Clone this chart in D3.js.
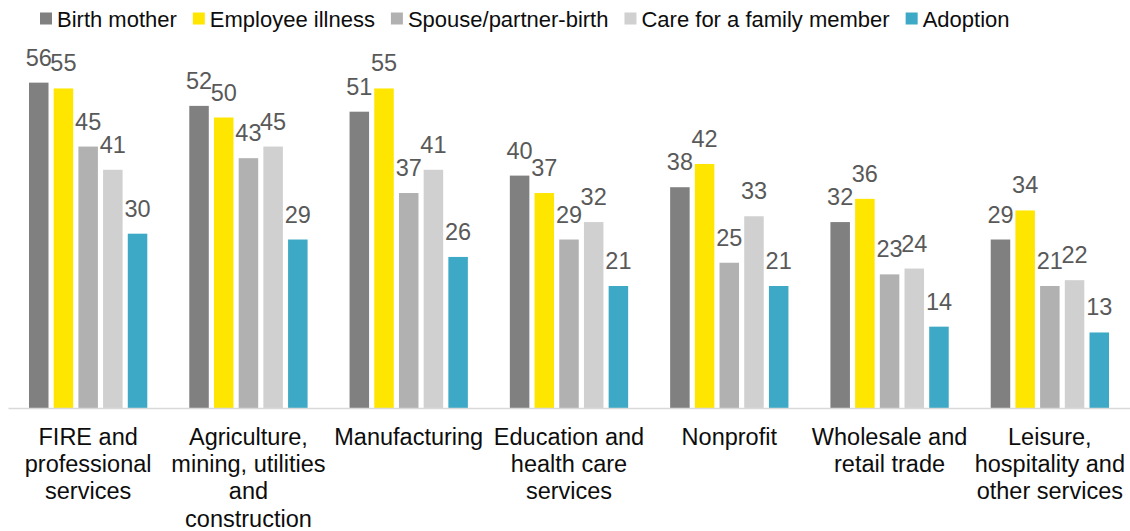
<!DOCTYPE html>
<html>
<head>
<meta charset="utf-8">
<script src="https://cdn.jsdelivr.net/npm/d3@7"></script>
<style>
  body { margin: 0; background: #fff; }
  svg { display: block; font-family: "Liberation Sans", Arial, sans-serif; }
</style>
</head>
<body>
<div id="chart"></div>
<script>
// categories (line breaks as in the original axis labels)
var categories = [
  "FIRE and|professional|services",
  "Agriculture,|mining, utilities|and|construction",
  "Manufacturing",
  "Education and|health care|services",
  "Nonprofit",
  "Wholesale and|retail trade",
  "Leisure,|hospitality and|other services"
];

var seriesNames = ["Birth mother", "Employee illness", "Spouse/partner-birth", "Care for a family member", "Adoption"];
var seriesColors = ["#808080", "#ffe600", "#b1b1b1", "#d0d0d0", "#3ea9c6"];

var birthMother     = [56, 52, 51, 40, 38, 32, 29];
var employeeIllness = [55, 50, 55, 37, 42, 36, 34];
var spouseBirth     = [45, 43, 37, 29, 25, 23, 21];
var careFamily      = [41, 45, 41, 32, 33, 24, 22];
var adoption        = [30, 29, 26, 21, 21, 14, 13];

var seriesValues = [birthMother, employeeIllness, spouseBirth, careFamily, adoption];

var width = 1130, height = 531;

var svg = d3.select("#chart").append("svg")
  .attr("width", width)
  .attr("height", height);

// scales
var x0 = d3.scaleBand().domain(d3.range(categories.length)).range([8, 1130]).paddingInner(0);
var groupWidth = 118.3;
var x1 = d3.scaleBand().domain(d3.range(seriesNames.length)).range([0, groupWidth]).paddingInner(0.21);
var y = d3.scaleLinear().domain([0, 60]).range([408, 59.4]);

var groupOffset = (x0.bandwidth() - groupWidth) / 2;

// bars + labels
var groups = svg.selectAll(".grp")
  .data(categories)
  .enter().append("g")
  .attr("class", "grp")
  .attr("transform", function(d, i) { return "translate(" + (x0(i) + groupOffset) + ",0)"; });

groups.each(function(c, ci) {
  var g = d3.select(this);
  var rows = seriesValues.map(function(vals, si) { return {s: si, v: vals[ci]}; });

  g.selectAll("rect")
    .data(rows)
    .enter().append("rect")
    .attr("x", function(d) { return x1(d.s); })
    .attr("y", function(d) { return y(d.v); })
    .attr("width", x1.bandwidth())
    .attr("height", function(d) { return y(0) - y(d.v); })
    .attr("fill", function(d) { return seriesColors[d.s]; });

  g.selectAll("text.val")
    .data(rows)
    .enter().append("text")
    .attr("class", "val")
    .attr("x", function(d) { return x1(d.s) + x1.bandwidth() / 2; })
    .attr("y", function(d) { return y(d.v) - 17; })
    .attr("text-anchor", "middle")
    .attr("fill", "#595959")
    .style("font-size", "23.5px")
    .text(function(d) { return d.v; });
});

// axis line
var xAxis = d3.axisBottom(x0).tickSize(0).tickFormat("");
var axisG = svg.append("g")
  .attr("transform", "translate(0," + y(0) + ")")
  .call(xAxis);
axisG.select(".domain").attr("stroke", "#d9d9d9").attr("stroke-width", 1.5);

// category labels
svg.selectAll(".cat")
  .data(categories)
  .enter().append("text")
  .attr("class", "cat")
  .attr("text-anchor", "middle")
  .attr("fill", "#0d0d0d")
  .style("font-size", "23.5px")
  .each(function(d, i) {
    var t = d3.select(this);
    var cx = x0(i) + x0.bandwidth() / 2;
    d.split("|").forEach(function(line, li) {
      t.append("tspan")
        .attr("x", cx)
        .attr("y", 445 + li * 27.2)
        .text(line);
    });
  });

// legend
var legend = svg.append("g").attr("class", "legend");
var lx = 40;
seriesNames.forEach(function(name, i) {
  var item = legend.append("g").attr("transform", "translate(" + lx + ",0)");
  item.append("rect")
    .attr("x", 0).attr("y", 12.5)
    .attr("width", 12).attr("height", 12)
    .attr("fill", seriesColors[i]);
  var txt = item.append("text")
    .attr("x", 17).attr("y", 26.5)
    .attr("fill", "#0d0d0d")
    .style("font-size", "22px")
    .text(name);
  lx += 17 + txt.node().getComputedTextLength() + 16;
});
</script>
</body>
</html>
